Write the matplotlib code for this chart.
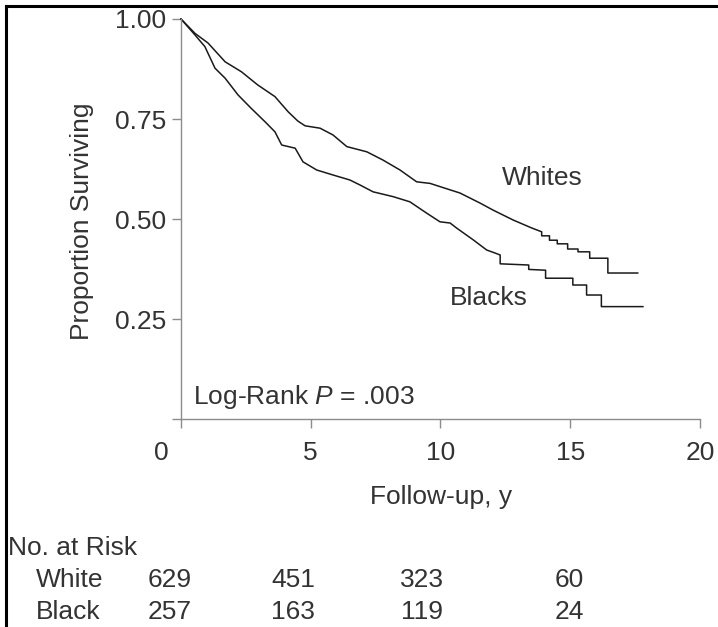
import matplotlib
matplotlib.use("Agg")
import matplotlib.pyplot as plt
from matplotlib.lines import Line2D
from matplotlib.transforms import ScaledTranslation, blended_transform_factory

plt.rcParams["font.family"] = ["Liberation Sans", "DejaVu Sans"]
plt.rcParams["mathtext.fontset"] = "custom"
plt.rcParams["mathtext.rm"] = "Liberation Sans"
plt.rcParams["mathtext.it"] = "Liberation Sans:italic"

# Kaplan-Meier curves (years, proportion surviving);
# repeated times are the visible vertical drops in the tail
white_t = [0, 0.54, 1.04, 1.7, 2.33, 2.96, 3.62, 4.13, 4.5, 4.78, 5.36, 5.86, 6.39,
           7.16, 7.78, 8.44, 9.08, 9.6, 9.98, 10.75, 11.52, 12.02, 12.8, 13.5,
           13.9, 13.9, 14.2, 14.2, 14.5, 14.5, 14.9, 14.9, 15.3, 15.3, 15.75, 15.75,
           16.45, 16.45, 17.6]
white_s = [1.0, 0.964, 0.94, 0.893, 0.868, 0.835, 0.806, 0.768, 0.745, 0.733, 0.727,
           0.71, 0.681, 0.668, 0.6475, 0.6225, 0.593, 0.589, 0.581, 0.565, 0.54, 0.5225,
           0.4975, 0.478, 0.468, 0.458, 0.458, 0.447, 0.447, 0.438, 0.438, 0.425, 0.425,
           0.418, 0.418, 0.402, 0.402, 0.365, 0.365]

black_t = [0, 0.54, 0.92, 1.31, 1.7, 2.2, 2.7, 3.24, 3.62, 3.88, 4.4, 4.7, 5.23, 5.86,
           6.51, 6.9, 7.4, 8.17, 8.82, 9.46, 9.98, 10.37, 10.63, 11.27, 11.78, 12.1,
           12.3, 12.3, 13.4, 13.4, 14.05, 14.05, 15.1, 15.1, 15.63, 15.63, 16.2, 16.2,
           17.8]
black_s = [1.0, 0.96, 0.931, 0.877, 0.852, 0.81, 0.777, 0.743, 0.718, 0.685, 0.677,
           0.643, 0.6225, 0.61, 0.5975, 0.585, 0.568, 0.556, 0.543, 0.515, 0.493, 0.49,
           0.477, 0.4475, 0.4225, 0.415, 0.41, 0.388, 0.385, 0.374, 0.372, 0.352, 0.352,
           0.335, 0.335, 0.31, 0.31, 0.281, 0.281]

x_ticks = [0, 5, 10, 15, 20]
y_ticks = [0, 0.25, 0.50, 0.75, 1.00]
y_tick_labels = ["", "0.25", "0.50", "0.75", "1.00"]

risk_groups = ["White", "Black"]
risk_white = [629, 451, 323, 60]
risk_black = [257, 163, 119, 24]
risk_label_x = [-0.42, 4.32, 9.3, 14.95]

text_color = "#333333"
axis_color = "#8c8c8c"
fs = 19

fig = plt.figure(figsize=(7.18, 6.27), dpi=100)
ax = fig.add_axes([0.2521, 0.3317, 0.7228, 0.638])

ax.plot(white_t, white_s, color="#1a1a1a", lw=1.1, clip_on=False)
ax.plot(black_t, black_s, color="#1a1a1a", lw=1.1, clip_on=False)

ax.set_xlim(0, 20)
ax.set_ylim(0, 1)
for side in ["top", "right"]:
    ax.spines[side].set_visible(False)
for side in ["left", "bottom"]:
    ax.spines[side].set_color(axis_color)
    ax.spines[side].set_linewidth(1.0)

ax.set_xticks(x_ticks)
ax.set_xticklabels([str(v) for v in x_ticks])
ax.set_yticks(y_ticks)
ax.set_yticklabels(y_tick_labels)
ax.tick_params(axis="both", direction="out", length=6.5, width=1.0, color=axis_color,
               labelsize=fs, labelcolor=text_color)
ax.tick_params(axis="x", pad=9)
ax.tick_params(axis="y", pad=4)

# the "0" label sits left of its tick in the original
lbl0 = ax.get_xticklabels()[0]
lbl0.set_transform(lbl0.get_transform() + ScaledTranslation(-0.2, 0, fig.dpi_scale_trans))

fig.text(82 / 718, 1 - 221 / 627, "Proportion Surviving", rotation=90, ha="center",
         va="center", fontsize=fs, color=text_color)
fig.text(441 / 718, 1 - 497 / 627, "Follow-up, y", ha="center", va="center",
         fontsize=fs, color=text_color)

ax.text(0.46, 0.056, r"Log-Rank $P$ = .003", ha="left", va="center", fontsize=fs,
        color=text_color)
ax.text(12.37, 0.6025, "Whites", ha="left", va="center", fontsize=fs, color=text_color)
ax.text(10.37, 0.3025, "Blacks", ha="left", va="center", fontsize=fs, color=text_color)

# number at risk table
fig.text(8 / 718, 1 - 548 / 627, "No. at Risk", ha="left", va="center", fontsize=fs,
         color=text_color)
trans = blended_transform_factory(ax.transData, fig.transFigure)
row_y = [1 - 580 / 627, 1 - 612 / 627]
for name, counts, yy in zip(risk_groups, [risk_white, risk_black], row_y):
    fig.text(36 / 718, yy, name, ha="left", va="center", fontsize=fs, color=text_color)
    for xx, n in zip(risk_label_x, counts):
        ax.text(xx, yy, str(n), transform=trans, ha="center", va="center", fontsize=fs,
                color=text_color, clip_on=False)

# frame on the left and top edges
fig.add_artist(Line2D([6 / 718, 6 / 718], [0, 1 - 6 / 627], transform=fig.transFigure,
                      color="black", lw=2.2))
fig.add_artist(Line2D([6 / 718, 1], [1 - 6 / 627, 1 - 6 / 627], transform=fig.transFigure,
                      color="black", lw=2.2))

fig.savefig("out.png", dpi=100)
